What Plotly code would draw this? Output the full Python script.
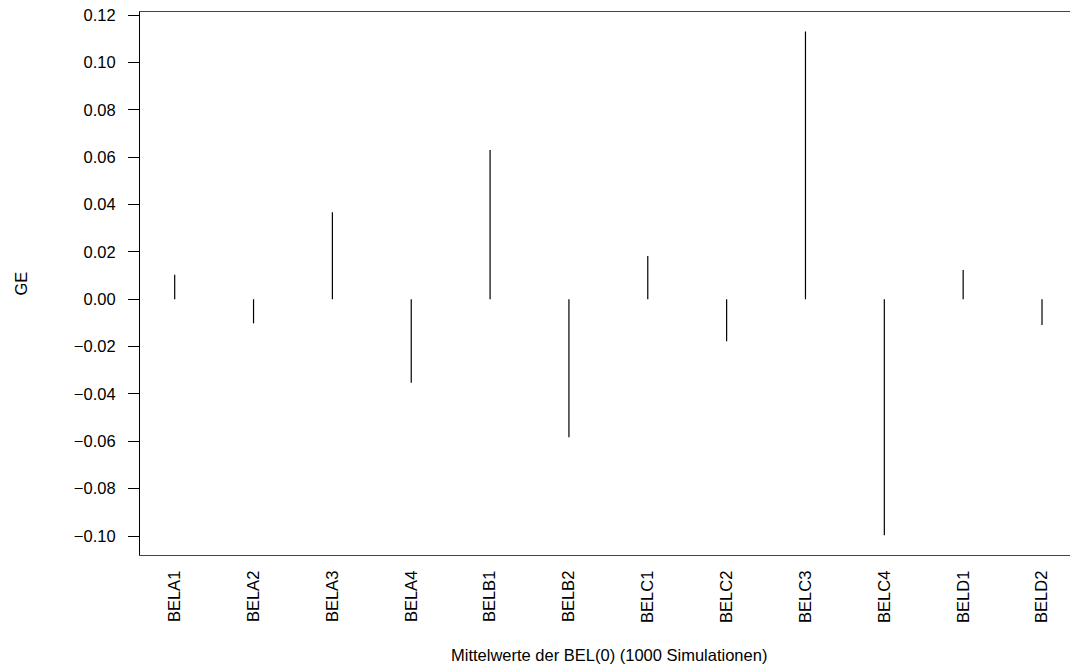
import plotly.graph_objects as go

categories = ["BELA1", "BELA2", "BELA3", "BELA4", "BELB1", "BELB2",
              "BELC1", "BELC2", "BELC3", "BELC4", "BELD1", "BELD2"]
values = [0.0103, -0.0102, 0.0367, -0.0353, 0.0630, -0.0583,
          0.0182, -0.0177, 0.1130, -0.0997, 0.0123, -0.0109]
y_ticks = [-0.10, -0.08, -0.06, -0.04, -0.02, 0.00, 0.02, 0.04, 0.06, 0.08, 0.10, 0.12]
y_ticktext = ["\u22120.10", "\u22120.08", "\u22120.06", "\u22120.04", "\u22120.02",
              "0.00", "0.02", "0.04", "0.06", "0.08", "0.10", "0.12"]

xs, ys = [], []
for i, v in enumerate(values, start=1):
    xs += [i, i, None]
    ys += [0, v, None]

FONT = "Liberation Sans, Arial, sans-serif"

fig = go.Figure()
fig.add_trace(go.Scatter(x=xs, y=ys, mode="lines",
                         line=dict(color="black", width=1.2),
                         hoverinfo="skip", showlegend=False))

fig.update_layout(
    width=1070, height=667,
    margin=dict(l=140, r=0, t=12, b=112),
    plot_bgcolor="white", paper_bgcolor="white",
    font=dict(family=FONT, size=16.5, color="black"),
    showlegend=False,
    xaxis=dict(
        range=[0.56, 12.355],
        tickvals=list(range(1, len(categories) + 1)),
        ticktext=categories,
        tickangle=-90,
        ticks="", showgrid=False, zeroline=False,
        showline=True, mirror=True, linecolor="#444", linewidth=1.2,
        ticklabelstandoff=8,
    ),
    yaxis=dict(
        range=[-0.1080, 0.12127],
        tickvals=y_ticks, ticktext=y_ticktext,
        ticks="outside", ticklen=11, tickwidth=1, tickcolor="black",
        showgrid=False, zeroline=False,
        showline=True, mirror=False, linecolor="black", linewidth=1.2,
        ticklabelstandoff=9,
    ),
    annotations=[
        dict(text="GE", xref="paper", yref="paper", x=0, y=0.5,
             xanchor="center", yanchor="middle", xshift=-120,
             textangle=-90, showarrow=False, font=dict(size=16.5)),
        dict(text="Mittelwerte der BEL(0) (1000 Simulationen)", xref="paper", yref="paper",
             x=(608.5 - 140) / 930, y=0, xanchor="center", yanchor="middle", yshift=-100,
             showarrow=False, font=dict(size=16.5)),
    ],
)

fig.write_html("out.html")
